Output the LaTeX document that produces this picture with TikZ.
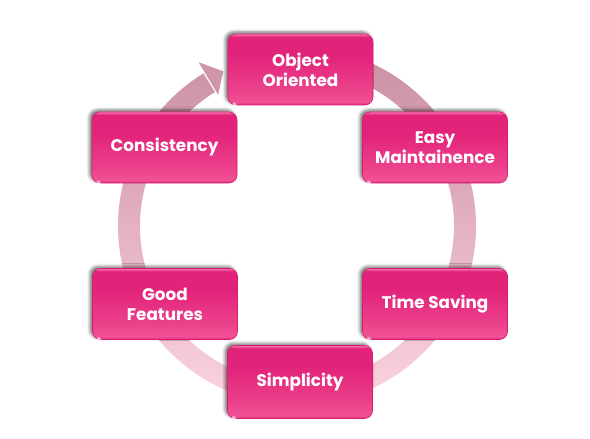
\documentclass[tikz,border=0pt]{standalone}
\usepackage{fontspec}
\setmainfont{Poppins}
\usetikzlibrary{shadows.blur}
\definecolor{bxA}{HTML}{E0287C}
\definecolor{bxB}{HTML}{F05296}
\definecolor{bxC}{HTML}{EC418B}
\definecolor{bxD}{HTML}{E2237A}
\definecolor{bxE}{HTML}{F57AB0}
\definecolor{bxEdge}{HTML}{D81C70}
\definecolor{ringT}{HTML}{C98DA1}
\definecolor{ringM}{HTML}{D8A5B5}
\definecolor{ringB}{HTML}{FDD5E1}
\definecolor{ringHead}{HTML}{CF96A9}
\pgfdeclareverticalshading{boxshade}{100bp}{color(0bp)=(bxA); color(25bp)=(bxA); color(27bp)=(bxB); color(36bp)=(bxC); color(60bp)=(bxD); color(73bp)=(bxD); color(75bp)=(bxE); color(100bp)=(bxE)}
\begin{document}
\begin{tikzpicture}[x=1pt,y=1pt,
  box/.style={rounded corners=8pt, minimum width=145pt, minimum height=71pt,
    shading=boxshade, draw=bxEdge, line width=0.6pt, text=white,
    font=\bfseries\fontsize{16.8}{20}\selectfont, align=center, inner sep=0pt,
    blur shadow={shadow xshift=-2.5pt, shadow yshift=2pt, shadow blur radius=3pt, shadow opacity=55}},
  gloss/.style={white, opacity=0.6}]
\useasboundingbox (0,0) rectangle (590,439);
\begin{scope}[shift={(297,213)}]
  \shade[top color=ringT, middle color=ringM, bottom color=ringB]
    (95:179) arc[start angle=95, end angle=-238.5, radius=179]
    -- (-238.5:157) arc[start angle=-238.5, end angle=95, radius=157] -- cycle;
  \fill[ringHead] (121:191) -- (115.5:171.5) -- (121:153) -- cycle;
\end{scope}
\node[box] (oo) at (300.5,369.5) {Object\\Oriented};
\node[box] (em) at (435,291.5) {Easy\\Maintainence};
\node[box] (ts) at (435,135) {Time Saving};
\node[box, minimum height=73pt] (si) at (300,57) {Simplicity};
\node[box] (gf) at (165,135) {Good\\Features};
\node[box] (co) at (164.5,291.5) {Consistency};
\foreach \n in {oo,em,ts,si,gf,co}
  \fill[gloss, rotate=-40] ([shift={(5pt,5pt)}]\n.south west) ellipse (2.5pt and 1.6pt);
\end{tikzpicture}
\end{document}
